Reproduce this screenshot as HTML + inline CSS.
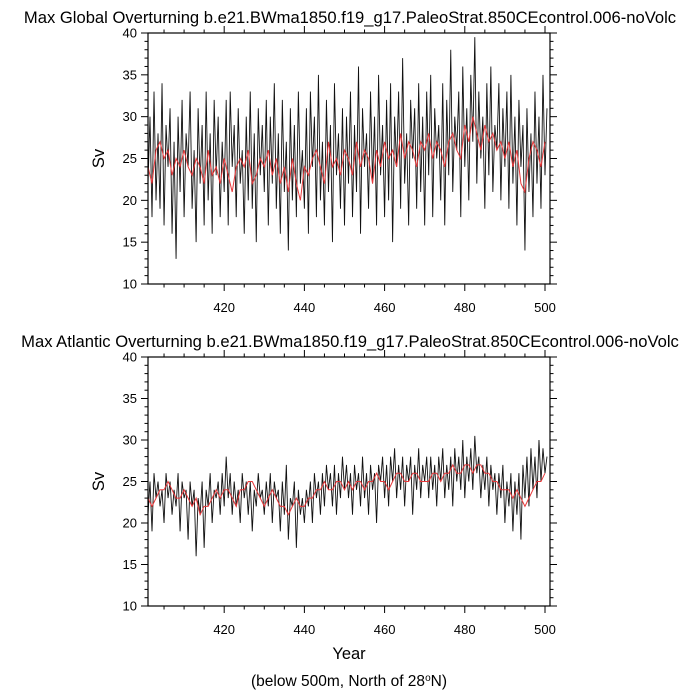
<!DOCTYPE html>
<html><head><meta charset="utf-8">
<style>
html,body{margin:0;padding:0;background:#fff;}
svg{display:block;font-family:"Liberation Sans",Arial,sans-serif;}
</style></head>
<body>
<svg id="chart" width="700" height="700" viewBox="0 0 700 700">
<g id="root"></g>
</svg>
<script>
const years = [401, 501.25];
const yRange = [10, 40];
const xTickLabels = [420, 440, 460, 480, 500];
const yTickLabels = [10, 15, 20, 25, 30, 35, 40];
const globalBlack = [22,30,18,33,20,28,19,34,17,29,24,31,16,27,13,30,21,32,18,28,
24,33,19,26,15,31,22,29,17,33,20,28,16,32,23,30,18,27,21,32,
17,33,24,29,18,31,22,26,16,30,20,33,19,28,15,31,23,29,21,32,
17,30,22,34,19,28,16,32,21,27,14,31,20,29,18,33,22,26,19,31,
16,33,24,30,18,35,20,27,17,32,21,29,15,34,23,28,19,31,17,30,
22,33,18,29,21,36,16,31,24,28,19,33,22,30,17,35,23,29,18,32,
20,34,15,30,24,33,19,37,22,28,17,32,25,31,19,34,21,30,17,33,
23,35,18,31,25,29,20,34,17,32,23,38,21,30,26,33,18,36,24,31,
20,35,27,39.5,22,33,25,30,19,34,23,36,21,29,26,34,20,31,24,33,
19,35,22,30,17,32,24,29,14,31,21,28,18,33,22,30,19,35,23,31];
const globalRed = [24,22,26,27,25,26,23,25,24,26,
24,23,25,24,22,26,23,24,22,25,
23,21,24,25,24,26,22,23,25,24,
26,23,25,22,24,21,25,22,20,24,
23,25,26,24,22,27,24,25,23,26,
25,23,27,24,26,25,22,26,24,27,
25,26,24,28,25,27,26,24,27,26,
28,25,27,26,24,27,28,26,25,29,
27,30,28,26,29,27,28,26,27,25,
27,24,26,22,21,25,27,26,24,27];
const atlBlack = [21,25,19,26,23,25,22,24,20,26,23,25,21,24,22,26,19,25,23,24,
18,25,22,24,16,23,21,25,17,24,22,26,20,24,23,25,21,26,22,28,
23,26,21,25,22,24,20,26,23,25,21,25,19,24,22,26,23,24,21,25,
22,26,20,25,23,24,19,25,21,27,18,23,22,25,17,24,21,23,20,24,
22,25,20,26,23,25,21,26,22,27,24,26,22,27,21,26,23,28,24,27,
23,26,21,27,24,26,22,28,23,26,21,27,24,26,20,27,25,28,23,27,
22,28,25,29,23,27,24,28,22,27,25,28,21,27,24,29,23,27,25,28,
23,28,24,27,22,28,25,29,23,27,24,28,22,29,25,28,24,30,23,28,
25,29,24,30.5,26,28,23,27,24,28,22,27,24,26,21,26,23,27,20,25,
22,26,19,25,21,26,18,27,23,28,22,29,24,28,23,30,25,29,26,28];
const atlRed = [23,22,23,24,24,25,24,23,23,24,
23,22,23,21,22,22,23,24,23,24,
24,23,22,24,24,25,25,24,23,22,
23,24,23,22,22,21,22,23,22,22,
23,23,24,24,25,24,24,25,25,24,
25,24,25,25,24,25,25,26,25,25,
24,25,26,26,25,25,26,26,25,25,
25,26,26,25,26,26,27,26,26,27,
27,26,27,27,26,26,25,25,24,24,
24,23,24,23,22,23,24,25,25,26];

const NS = "http://www.w3.org/2000/svg";
const root = document.getElementById('root');
function mk(tag, attrs, parent){ const e=document.createElementNS(NS,tag); for(const k in attrs) e.setAttribute(k,attrs[k]); (parent||root).appendChild(e); return e; }

function panel(key, title, top, bottom, black, red, showYear){
  const L=148, R=550;
  const g = mk('g',{});
  
  
  const xs = v => L + (v - years[0])/(years[1]-years[0])*(R-L);
  const ys = v => bottom - (v - yRange[0])/(yRange[1]-yRange[0])*(bottom-top);
  const t = mk('text',{x:350,y:top-10,'text-anchor':'middle','font-size':'16.6'},g);
  t.textContent = title;
  
  
  let d='';
  black.forEach((v,i)=>{ d+=(i?'L':'M')+xs(years[0]+i*0.5).toFixed(2)+' '+ys(v).toFixed(2); });
  const pb = mk('path',{d:d,fill:'none',stroke:'#111','stroke-width':'0.9'},g);
  
  
  let d2='';
  red.forEach((v,i)=>{ d2+=(i?'L':'M')+xs(years[0]+i).toFixed(2)+' '+ys(v).toFixed(2); });
  const pr = mk('path',{d:d2,fill:'none',stroke:'#e8383a','stroke-width':'1'},g);
  
  
  const fr = mk('rect',{x:L,y:top,width:R-L,height:bottom-top,fill:'none',stroke:'#000','stroke-width':'1.2'},g);
  
  
  for(let yr=405; yr<=500; yr+=5){
    const x=xs(yr), major = yr%20===0;
    const len = major?7:3.5;
    mk('line',{x1:x,x2:x,y1:bottom,y2:bottom+len,stroke:'#000','stroke-width':'1'},g);
    mk('line',{x1:x,x2:x,y1:top,y2:top-len,stroke:'#000','stroke-width':'1'},g);
  }
  xTickLabels.forEach(v=>{
    const tx = mk('text',{x:xs(v),y:bottom+28,'text-anchor':'middle','font-size':'13'},g);
    tx.textContent=v;
    
    
  });
  for(let v=yRange[0]; v<=yRange[1]; v++){
    const y=ys(v), major=v%5===0, len=major?7:3.5;
    mk('line',{x1:L,x2:L-len,y1:y,y2:y,stroke:'#000','stroke-width':'1'},g);
    mk('line',{x1:R,x2:R+len,y1:y,y2:y,stroke:'#000','stroke-width':'1'},g);
  }
  yTickLabels.forEach(v=>{
    const ty = mk('text',{x:L-11,y:ys(v)+4.5,'text-anchor':'end','font-size':'13'},g);
    ty.textContent=v;
    
    
  });
  const cy=(top+bottom)/2;
  const sv = mk('text',{x:104,y:cy,'text-anchor':'middle','font-size':'16.5',transform:`rotate(-90 104 ${cy})`},g);
  sv.textContent='Sv';
  
  
  if(showYear){
    const yt = mk('text',{x:349,y:659,'text-anchor':'middle','font-size':'16.5'},g);
    yt.textContent='Year';
    
    
  }
}
panel('global','Max Global Overturning b.e21.BWma1850.f19_g17.PaleoStrat.850CEcontrol.006-noVolc',33,284,globalBlack,globalRed,false);
panel('atlantic','Max Atlantic Overturning b.e21.BWma1850.f19_g17.PaleoStrat.850CEcontrol.006-noVolc',357,606,atlBlack,atlRed,true);
const cap = mk('text',{x:349,y:686,'text-anchor':'middle','font-size':'15.5'});
cap.innerHTML='(below 500m, North of 28<tspan dy="-5" font-size="10">o</tspan><tspan dy="5">N)</tspan>';


</script>
</body></html>
